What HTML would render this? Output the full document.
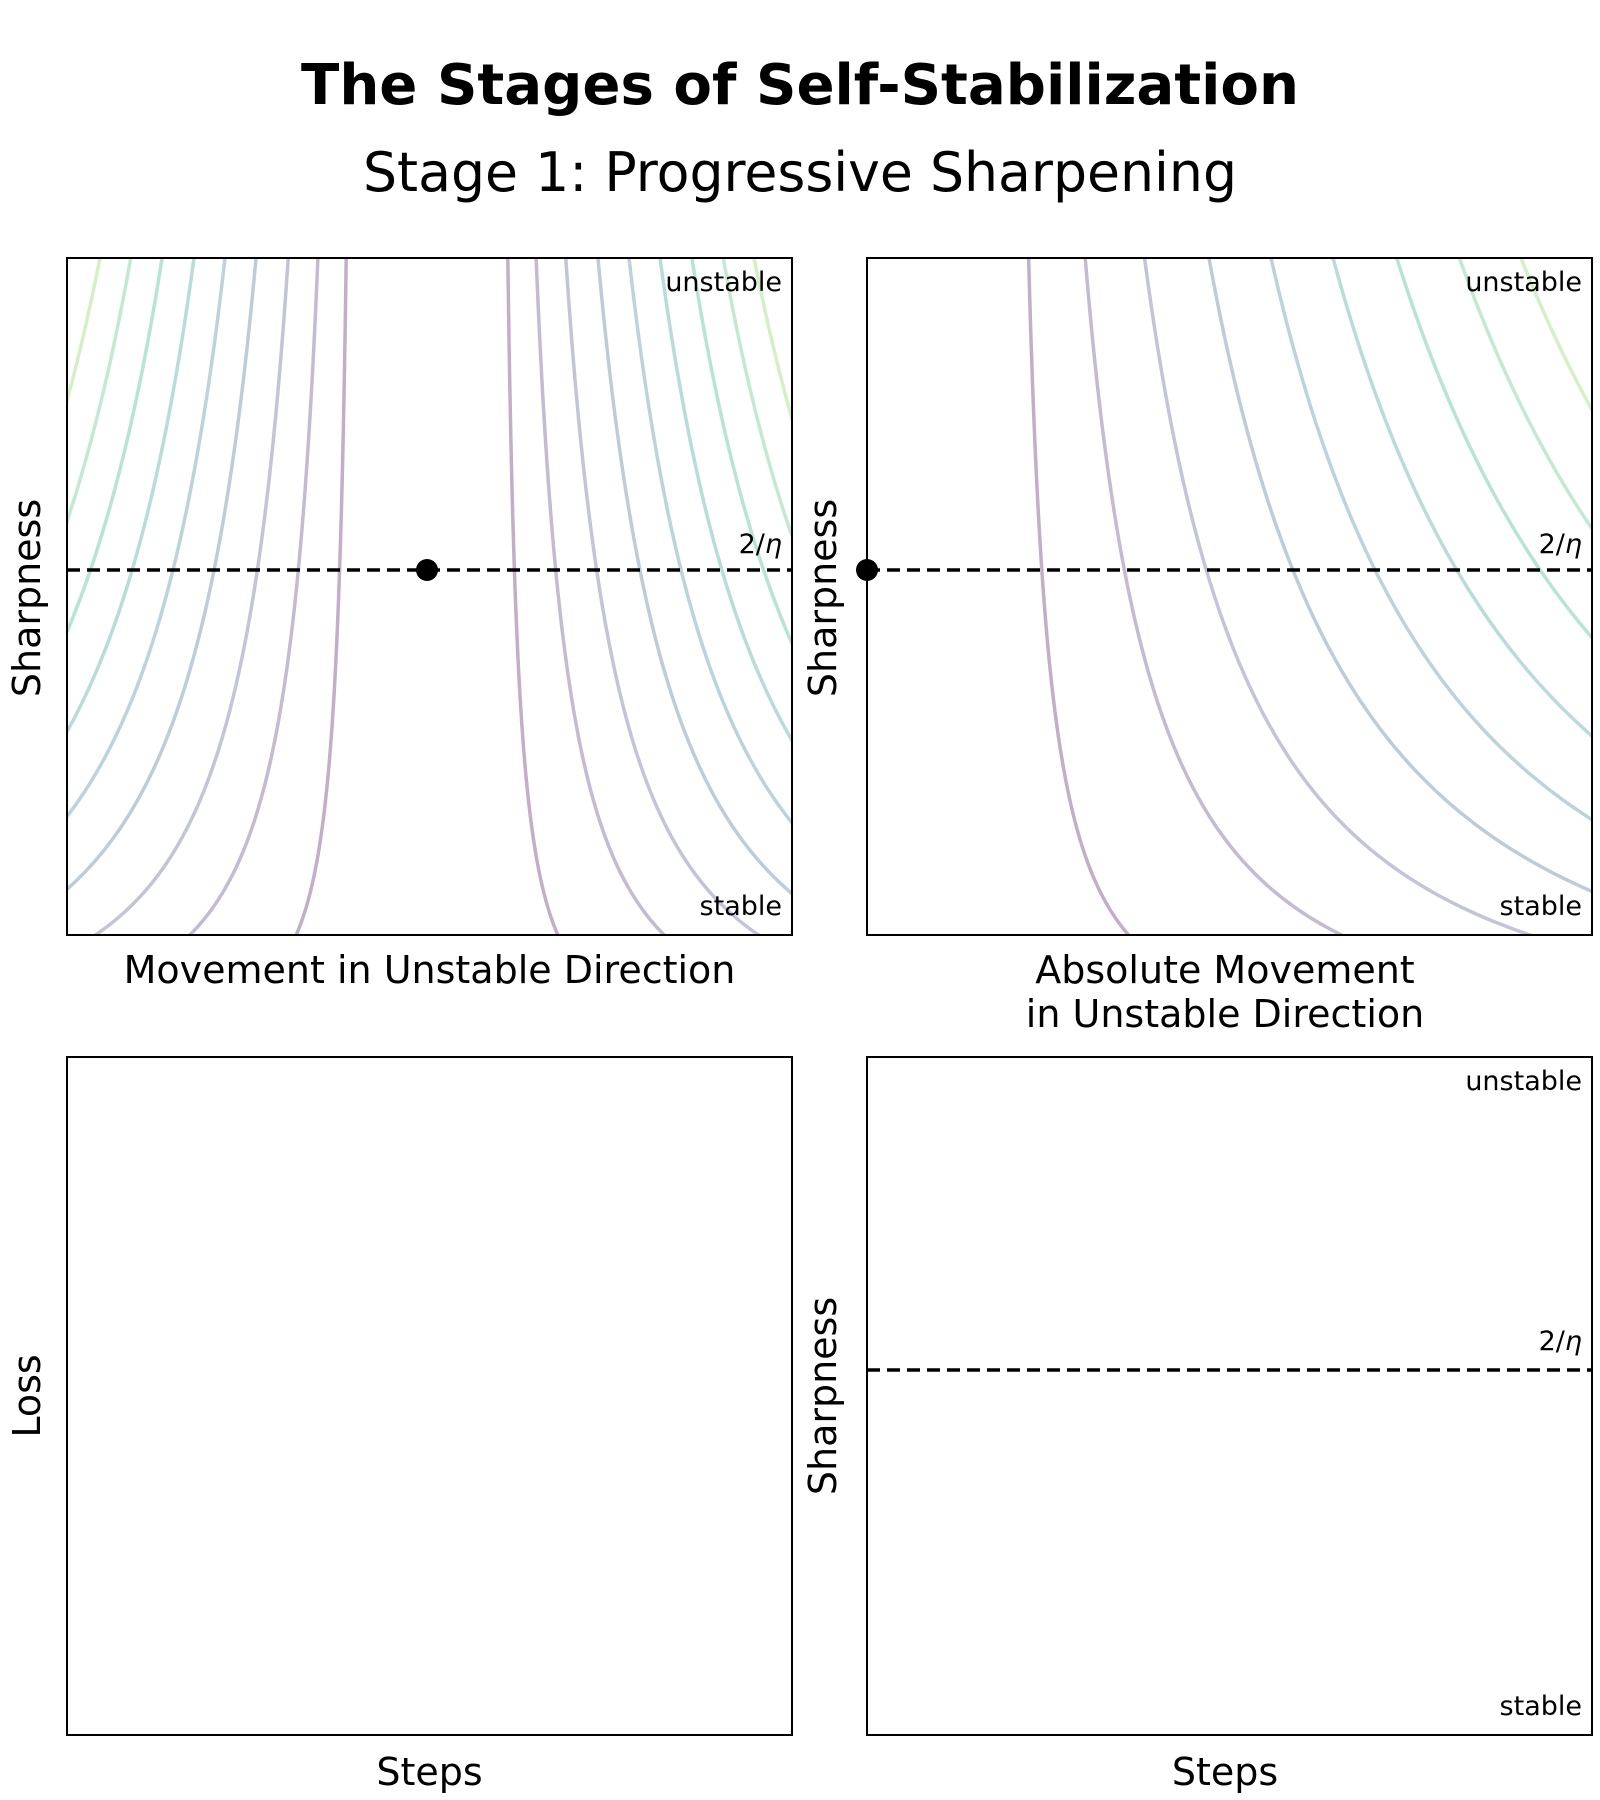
<!DOCTYPE html>
<html><head><meta charset="utf-8"><style>
html,body{margin:0;padding:0;background:#fff;}
svg{display:block;}
text{font-family:"DejaVu Sans","Liberation Sans",sans-serif;fill:#000;}
</style></head><body>
<svg id="fig" width="1600" height="1800" viewBox="0 0 1600 1800" xmlns="http://www.w3.org/2000/svg">
<defs>
<clipPath id="clipA"><rect x="67" y="258" width="725" height="677"/></clipPath>
<clipPath id="clipB"><rect x="867" y="258" width="725" height="677"/></clipPath>
</defs>
<text x="800" y="104" text-anchor="middle" font-family="Liberation Sans, sans-serif" font-weight="bold" font-size="56" textLength="998" lengthAdjust="spacingAndGlyphs">The Stages of Self-Stabilization</text>
<text x="800" y="191" text-anchor="middle" font-family="Liberation Sans, sans-serif" font-size="54" textLength="874" lengthAdjust="spacingAndGlyphs">Stage 1: Progressive Sharpening</text>

<g id="contA" clip-path="url(#clipA)"></g>
<g id="contB" clip-path="url(#clipB)"></g>

<rect x="67" y="258" width="725" height="677" fill="none" stroke="#000" stroke-width="2"/>
<rect x="867" y="258" width="725" height="677" fill="none" stroke="#000" stroke-width="2"/>
<rect x="67" y="1057" width="725" height="678" fill="none" stroke="#000" stroke-width="2"/>
<rect x="867" y="1057" width="725" height="678" fill="none" stroke="#000" stroke-width="2"/>

<line x1="67" y1="570" x2="792" y2="570" stroke="#000" stroke-width="3.5" stroke-dasharray="13,7"/>
<line x1="867" y1="570" x2="1592" y2="570" stroke="#000" stroke-width="3.5" stroke-dasharray="13,7"/>
<line x1="867" y1="1370" x2="1592" y2="1370" stroke="#000" stroke-width="3.5" stroke-dasharray="13,7"/>

<circle cx="427" cy="570" r="11" fill="#000"/>
<circle cx="867" cy="570" r="11" fill="#000"/>

<g font-size="27" text-anchor="end">
<text x="782" y="291">unstable</text>
<text x="782" y="553">2/<tspan font-style="italic">η</tspan></text>
<text x="782" y="915">stable</text>
<text x="1582" y="291">unstable</text>
<text x="1582" y="553">2/<tspan font-style="italic">η</tspan></text>
<text x="1582" y="915">stable</text>
<text x="1582" y="1090">unstable</text>
<text x="1582" y="1350">2/<tspan font-style="italic">η</tspan></text>
<text x="1582" y="1715">stable</text>
</g>

<g font-size="38" text-anchor="middle">
<text x="429.5" y="983">Movement in Unstable Direction</text>
<text x="1225" y="983">Absolute Movement</text>
<text x="1225" y="1027">in Unstable Direction</text>
<text x="429.5" y="1785">Steps</text>
<text x="1225" y="1785">Steps</text>
<text transform="translate(40,598) rotate(-90)">Sharpness</text>
<text transform="translate(836,598) rotate(-90)">Sharpness</text>
<text transform="translate(40,1396) rotate(-90)">Loss</text>
<text transform="translate(836,1396) rotate(-90)">Sharpness</text>
</g>
</svg>
<script>
// contour levels of loss L(u,y): u^2 = (level + slope*y)/(offset + y)
const contourLevels = [0.0207, 0.0681, 0.133, 0.221, 0.323, 0.442, 0.582, 0.737, 0.906];
const sharpnessOffset = [0.159];
const lossSlope = [0.0369];
const contourColors = ['#440154','#462777','#404688','#355f8d','#2a788e','#21918c','#22a884','#44bf70','#7ad151'];

const NS = 'http://www.w3.org/2000/svg';
function uAt(level, y){ const v=(level+lossSlope[0]*y)/(sharpnessOffset[0]+y); return v>0?Math.sqrt(v):0; }
function yPix(y){ return 935 - y*677; }
const xA = (u,s)=> 427 + s*u*362.5;
const xB = u=> 867 + u*725;
function build(gid, xf, sides){
  const g=document.getElementById(gid);
  contourLevels.forEach((lv,i)=>{
    sides.forEach(s=>{
      let d='';
      for(let k=0;k<=300;k++){
        const y=-0.05+1.1*k/300;
        const px=xf(uAt(lv,y),s), py=yPix(y);
        d+=(k?'L':'M')+px.toFixed(2)+','+py.toFixed(2);
      }
      const p=document.createElementNS(NS,'path');
      p.setAttribute('d',d);
      p.setAttribute('fill','none');
      p.setAttribute('stroke',contourColors[i]);
      p.setAttribute('stroke-opacity','0.32');
      p.setAttribute('stroke-width','3.5');
      
      
      g.appendChild(p);
    });
  });
}
build('contA', xA, [-1,1]);
build('contB', (u)=>xB(u), [1]);
</script>
</body></html>
